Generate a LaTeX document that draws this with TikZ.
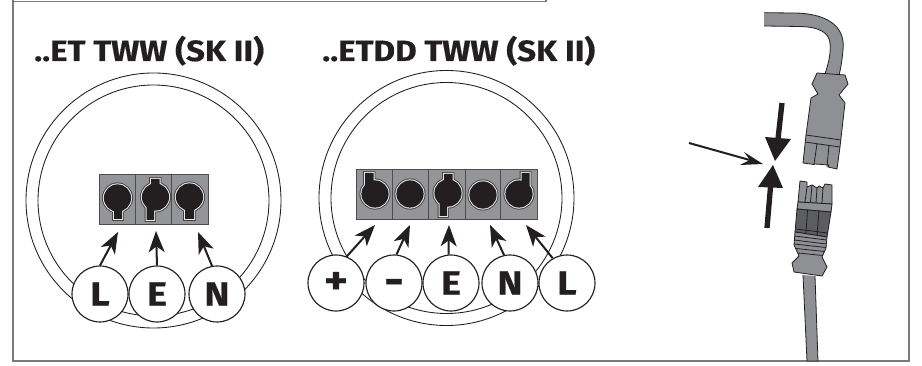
\documentclass[tikz,border=0pt]{standalone}
\usepackage{fontspec}
\setmainfont[FakeStretch=1.13,BoldFeatures={FakeBold=0.5}]{Fira Sans}
\usetikzlibrary{arrows.meta}
\definecolor{plate}{HTML}{939598}
\definecolor{plug}{HTML}{8E9093}
\definecolor{plugdark}{HTML}{5C5D60}
\definecolor{frameline}{HTML}{7A7A7A}
\definecolor{ink}{HTML}{231F20}
\tikzset{
  x=0.75pt,y=-0.75pt,
  frameedge/.style={draw=frameline,line width=1pt},
  ring/.style={draw=ink,line width=0.65pt},
  plateedge/.style={fill=plate,draw=ink!80,line width=0.6pt},
  lbl/.style={circle,draw=ink,line width=0.85pt,fill=white,minimum size=42pt,inner sep=0pt,font=\bfseries\fontsize{25}{25}\selectfont,text=ink},
  ttl/.style={inner sep=0pt,anchor=base west,font=\bfseries\fontsize{22}{22}\selectfont,text=ink},
  pin/.style={draw=ink,line width=1.5pt,-{Stealth[length=16pt,width=12pt,inset=4.5pt]}},
  plugpart/.style={fill=plug,draw=ink,line width=0.6pt,line join=round},
  plugdarkpart/.style={fill=plugdark,draw=ink,line width=0.6pt,line join=round},
  plugline/.style={draw=ink,line width=0.6pt},
  bigshaft/.style={draw=ink,line width=4pt},
  bighead/.style={fill=ink,draw=none},
}
\newcommand{\termslot}[1]{%
  \draw[ink!85,line width=2.9pt] #1;
  \draw[white!80!plate,line width=1.5pt] #1;
  \fill[ink] #1;}
\begin{document}
\begin{tikzpicture}
\useasboundingbox (0,0) rectangle (922,366);
% frame
\draw[frameedge] (13,0) -- (13,361) -- (909,361) -- (909,0);
\draw[frameedge] (13,1.5) -- (546,1.5) -- (546,0);
% titles
\node[ttl] (t1) at (34,61) {..ET TWW (SK II)};
\node[ttl] (t2) at (322,61) {..ETDD TWW (SK II)};
% panel 1 rings
\draw[ring] (153.5,200.5) circle[radius=127.5*0.75pt];
\draw[ring] (153.5,200.5) circle[radius=115.5*0.75pt];
% panel 2 rings
\draw[ring] (446.5,198) circle[radius=127.5*0.75pt];
\draw[ring] (446.5,198) circle[radius=115.5*0.75pt];
% terminal 1
\draw[plateedge] (99,174) rectangle (208,224);
\draw[plateedge] (135.5,174) -- (135.5,224) (171.5,174) -- (171.5,224);
\termslot{(117.5,198) circle[radius=10.2pt] (114,205) rectangle (122,219)}
\termslot{(155.5,197) circle[radius=10.2pt] (151,179) rectangle (159.5,190) (146.5,205) rectangle (154,220)}
\termslot{(189.5,197) circle[radius=10.2pt] (185,205) rectangle (194,219)}
% terminal 2
\draw[plateedge] (356,169) rectangle (537,219);
\draw[plateedge] (392.7,169) -- (392.7,219) (428.7,169) -- (428.7,219) (465,169) -- (465,219) (500.7,169) -- (500.7,219);
\termslot{(375,194) circle[radius=10.2pt] (365,173) rectangle (373.5,186)}
\termslot{(410,194) circle[radius=10.2pt]}
\termslot{(448,193) circle[radius=10.2pt] (444,174) rectangle (452.5,186) (439.5,200) rectangle (447,216)}
\termslot{(483,195) circle[radius=10.2pt]}
\termslot{(519,194) circle[radius=10.2pt] (521.5,173) rectangle (529.5,186)}
% labels panel 1
\node[lbl] (aL) at (100,294) {L};
\node[lbl] (aE) at (157,294) {E};
\node[lbl] (aN) at (217,294) {N};
% labels panel 2
\node[lbl,font=\bfseries\fontsize{30}{30}\selectfont] (bP) at (336,283) {+};
\node[lbl,font=\bfseries\fontsize{32}{32}\selectfont] (bM) at (394,283) {\raisebox{-9pt}[0pt][0pt]{-}};
\node[lbl] (bE) at (451,283) {E};
\node[lbl] (bN) at (510,283) {N};
\node[lbl] (bL) at (567,283) {L};
% pins
\coordinate (paL) at (118,232);
\coordinate (paE) at (156,231);
\coordinate (paN) at (198,232);
\coordinate (pbP) at (375,225);
\coordinate (pbM) at (410,225);
\coordinate (pbE) at (449,225);
\coordinate (pbN) at (490,225);
\coordinate (pbL) at (526,225);
\draw[pin] (aL.north) -- (paL);
\draw[pin] (aE.north) -- (paE);
\draw[pin] (aN.100) -- (paN);
\draw[pin] (bP.68) -- (pbP);
\draw[pin] (bM.85) -- (pbM);
\draw[pin] (bE.95) -- (pbE);
\draw[pin] (bN.102) -- (pbN);
\draw[pin] (bL.120) -- (pbL);
% top plug
\draw[plugpart] (764,12.7) -- (793,13) .. controls (825,13) and (846,25) .. (843,50) .. controls (842,60) and (841,68) .. (839,75)
  -- (825,74) .. controls (829,62) and (831,52) .. (830,43) .. controls (829,33) and (820,27) .. (800,26.5) -- (764,26);
\fill[plug] (764,13) rectangle (766,25.5);
\draw[plugpart] (817,73) -- (845,75) -- (848,84) -- (839,95) -- (845,103) -- (840,147) -- (837,169) -- (828,167) -- (829,165) -- (815,164) -- (814,164.5) -- (803,163) -- (806,135) -- (811,98) -- (818,94) -- (812,84) -- cycle;
\draw[plugline] (806,135) -- (841,140) (805,142) -- (840,147) (817,144) -- (814,164) (829,145) -- (827,167);
% bottom plug
\draw[plugpart] (803,275) -- (807,361) -- (818,361) -- (815,276);
\draw[plugpart] (800,181) -- (807,182) -- (807,187) -- (812,185) -- (817,188) -- (819,186) -- (823,188) -- (825,184) -- (832,185) -- (832,204) -- (798,202) -- cycle;
\draw[plugline] (807,187) -- (805,202) (812,185) -- (810.5,202) (817,188) -- (816,203) (823,188) -- (822,203);
\draw[plugpart] (798,202) -- (832,204) -- (831,212) -- (797,209) -- cycle;
\draw[plugdarkpart] (797,209) -- (831,212) -- (827,237) -- (795,232) -- cycle;
\draw[plugline] (807.5,210) -- (806,233.5) (819,211) -- (817,235.5);
\draw[plugline] (796,229) -- (827.5,233);
\draw[plugpart] (795,232) -- (827,237) -- (826,248) -- (822,257) -- (827,267) -- (822,276) -- (794,272) -- (792,263) -- (799,256) -- (794,245) -- cycle;
\draw[plugline] (794.5,236) -- (826.5,240) (794,240) -- (826,244) (794,244) -- (826,247.5) (796,248.5) -- (824.5,251.5) (798,253) -- (823,255.5);
% big arrows
\coordinate (ga) at (775,161);
\coordinate (gb) at (773,165);
\coordinate (ta) at (782,103);
\coordinate (tb) at (767,228);
\coordinate (tc) at (689,143);
\coordinate (gc) at (763,164);
\draw[bigshaft] (ta) -- (778,139);
\fill[bighead] (ga) -- (765,137) -- (791,139) -- cycle;
\draw[bigshaft] (tb) -- (770.5,187);
\fill[bighead] (gb) -- (758,187) -- (783,188) -- cycle;
\draw[draw=ink,line width=1.5pt] (tc) -- (755,161.5);
\fill[bighead] (gc) -- (744,152) -- (750,160) -- (740,165) -- cycle;
\end{tikzpicture}
\end{document}
